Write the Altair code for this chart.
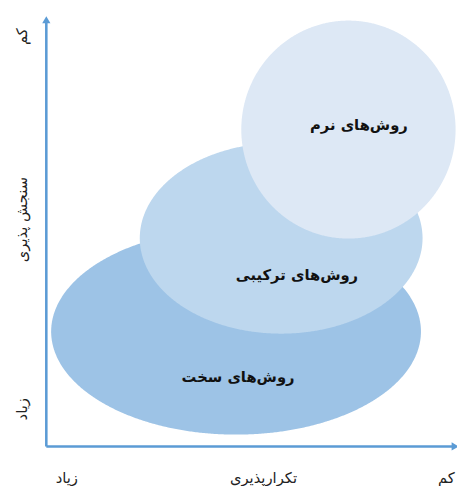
import altair as alt
import pandas as pd
import numpy as np

# Ellipse regions (data units: repeatability 0..10 on x, measurability 0..10 on y)
methods = ["روش‌های سخت", "روش‌های ترکیبی", "روش‌های نرم"]
center_x = [4.71, 5.83, 7.50]
center_y = [2.72, 4.93, 7.50]
radius_x = [4.59, 3.51, 2.66]
radius_y = [2.44, 2.26, 2.58]
label_x = [4.76, 6.22, 7.76]
label_y = [1.65, 4.05, 7.60]
fills = ["#9dc3e6", "#bdd7ee", "#dde8f5"]

# Axis annotations
x_texts = ["زیاد", "تکرارپذیری", "کم"]
x_text_pos = [0.51, 5.39, 9.93]
y_texts = ["زیاد", "سنجش پذیری", "کم"]
y_text_pos = [0.88, 5.37, 9.70]
axis_len_x = 10.15
axis_len_y = 10.1

AXIS_COLOR = "#5b9bd5"
FONT = "DejaVu Sans"

xs = alt.Scale(domain=[0, 10], nice=False, zero=False)
ys = alt.Scale(domain=[0, 10], nice=False, zero=False)

ell = pd.DataFrame({"method": methods, "cx": center_x, "cy": center_y,
                    "rx": radius_x, "ry": radius_y})
steps = pd.DataFrame({"k": np.arange(0, 401)})
ell_pts = ell.merge(steps, how="cross")

layers = []
for i, m in enumerate(methods):
    layers.append(
        alt.Chart(ell_pts)
        .transform_filter(alt.datum.method == m)
        .transform_calculate(
            ex="datum.cx + datum.rx * cos(datum.k * PI / 400)",
            ylo="datum.cy - datum.ry * sin(datum.k * PI / 400)",
            yhi="datum.cy + datum.ry * sin(datum.k * PI / 400)",
        )
        .mark_area(color=fills[i], opacity=1)
        .encode(
            x=alt.X("ex:Q", scale=xs, axis=None),
            y=alt.Y("ylo:Q", scale=ys, axis=None),
            y2="yhi:Q",
        )
    )

labels = pd.DataFrame({"method": methods, "lx": label_x, "ly": label_y})
label_layer = alt.Chart(labels).mark_text(
    font=FONT, fontSize=15, fontWeight="bold", color="#111111"
).encode(
    x=alt.X("lx:Q", scale=xs, axis=None),
    y=alt.Y("ly:Q", scale=ys, axis=None),
    text="method:N",
)

# Axis lines
xaxis_df = pd.DataFrame({"x0": [0.0], "x1": [axis_len_x], "y0": [0.0]})
yaxis_df = pd.DataFrame({"x0": [0.0], "y0": [0.0], "y1": [axis_len_y]})
xaxis = alt.Chart(xaxis_df).mark_rule(color=AXIS_COLOR, strokeWidth=2.6).encode(
    x=alt.X("x0:Q", scale=xs, axis=None), x2="x1:Q",
    y=alt.Y("y0:Q", scale=ys, axis=None))
yaxis = alt.Chart(yaxis_df).mark_rule(color=AXIS_COLOR, strokeWidth=2.6).encode(
    x=alt.X("x0:Q", scale=xs, axis=None),
    y=alt.Y("y0:Q", scale=ys, axis=None), y2="y1:Q")
xarrow = alt.Chart(pd.DataFrame({"x": [axis_len_x], "y": [0.0]})).mark_point(
    shape="triangle-right", filled=True, size=70, color=AXIS_COLOR, opacity=1
).encode(x=alt.X("x:Q", scale=xs, axis=None), y=alt.Y("y:Q", scale=ys, axis=None))
yarrow = alt.Chart(pd.DataFrame({"x": [0.0], "y": [axis_len_y]})).mark_point(
    shape="triangle-up", filled=True, size=70, color=AXIS_COLOR, opacity=1
).encode(x=alt.X("x:Q", scale=xs, axis=None), y=alt.Y("y:Q", scale=ys, axis=None))

xt = pd.DataFrame({"t": x_texts, "x": x_text_pos, "y": [-0.74] * 3})
xtext = alt.Chart(xt).mark_text(font=FONT, fontSize=15, color="#222222").encode(
    x=alt.X("x:Q", scale=xs, axis=None), y=alt.Y("y:Q", scale=ys, axis=None), text="t:N")
yt = pd.DataFrame({"t": y_texts, "y": y_text_pos, "x": [-0.6] * 3})
ytext = alt.Chart(yt).mark_text(font=FONT, fontSize=15, color="#222222", angle=270).encode(
    x=alt.X("x:Q", scale=xs, axis=None), y=alt.Y("y:Q", scale=ys, axis=None), text="t:N")

chart = alt.layer(*layers, label_layer, xaxis, yaxis, xarrow, yarrow, xtext, ytext).properties(
    width=410, height=430,
    autosize=alt.AutoSizeParams(type="none"),
    padding={"left": 39, "top": 12, "right": 8, "bottom": 36},
).configure_view(stroke=None)

chart.save("out.html", embed_options={"renderer": "svg", "actions": False})
